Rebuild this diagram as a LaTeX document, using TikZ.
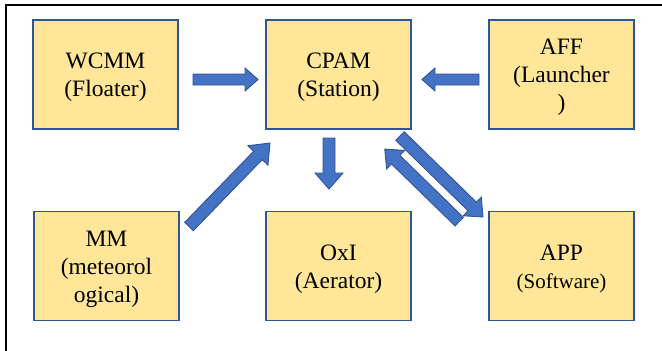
\documentclass[tikz,border=0pt]{standalone}
\usepackage{fontspec}
\setmainfont{Liberation Serif}
\usetikzlibrary{calc}

\definecolor{boxfill}{HTML}{FFE699}
\definecolor{boxline}{HTML}{2F5597}
\definecolor{arrowfill}{HTML}{4472C4}

\tikzset{
  module/.style={draw=boxline, line width=1.6pt, fill=boxfill,
    minimum width=145pt, minimum height=109pt, inner sep=0pt,
    align=center, font=\fontsize{23.5}{27.8}\selectfont},
  barrow/.style={fill=arrowfill, draw=boxline, line width=0.9pt, line join=miter},
}

% taller first line, so the text block sits a little lower in its box
\newcommand\topline{\rule{0pt}{21.5pt}}

% Block arrow from #1 to #2: half shaft width #3, half head width #4, head length #5
\newcommand\blockarrow[5]{%
  \path[barrow] let \p1=($(#2)-(#1)$), \n1={atan2(\y1,\x1)}, \n2={veclen(\x1,\y1)} in
    ($(#1)+(\n1+90:#3)$) -- ++(\n1:\n2-#5) -- ++(\n1+90:#4-#3) -- (#2)
    -- ($(#1)+(\n1:\n2-#5)+(\n1-90:#4)$) -- ++(\n1+90:#4-#3)
    -- ($(#1)+(\n1-90:#3)$) -- cycle;}

\begin{document}
\begin{tikzpicture}[x=1pt,y=-1pt]
\useasboundingbox (0,0) rectangle (662,351);
\clip (0,0) rectangle (662,351);

% outer frame
\draw[line width=2.3pt] (6,5) rectangle (700,400);

% modules
\node[module] (wcmm) at (105.5,74.5) {\topline WCMM\\(Floater)};
\node[module] (cpam) at (338.5,74.5) {\topline CPAM\\(Station)};
\node[module] (aff)  at (561.5,74.5) {\topline AFF\\(Launcher\\)};
\node[module] (mm)   at (106.5,266)  {\topline MM\\(meteorol\\ogical)};
\node[module] (oxi)  at (338.5,266)  {\topline OxI\\(Aerator)};
\node[module] (app)  at (561.5,266)  {\topline APP\\{\fontsize{21}{25}\selectfont(Software)}};

% arrow end points
\coordinate (wcmm-out) at (193,79.5);
\coordinate (cpam-inw) at (258,79.5);
\coordinate (aff-out)  at (479,79.5);
\coordinate (cpam-ine) at (422,79.5);
\coordinate (cpam-outs) at (329,138);
\coordinate (oxi-in)   at (329,189);
\coordinate (mm-out)   at (189,226.5);
\coordinate (cpam-insw) at (270,143);
\coordinate (cpam-outse) at (400,136);
\coordinate (app-in)   at (483,217);
\coordinate (app-out)  at (459.2,221.6);
\coordinate (cpam-inse) at (384.8,149.1);

% links
\blockarrow{wcmm-out}{cpam-inw}{5.5pt}{11.5pt}{13pt}
\blockarrow{aff-out}{cpam-ine}{5.5pt}{11.5pt}{13pt}
\blockarrow{cpam-outs}{oxi-in}{6pt}{14pt}{16pt}
\blockarrow{mm-out}{cpam-insw}{6pt}{14pt}{17pt}
\blockarrow{cpam-outse}{app-in}{6pt}{13pt}{15pt}
\blockarrow{app-out}{cpam-inse}{6pt}{13pt}{15pt}
\end{tikzpicture}
\end{document}
